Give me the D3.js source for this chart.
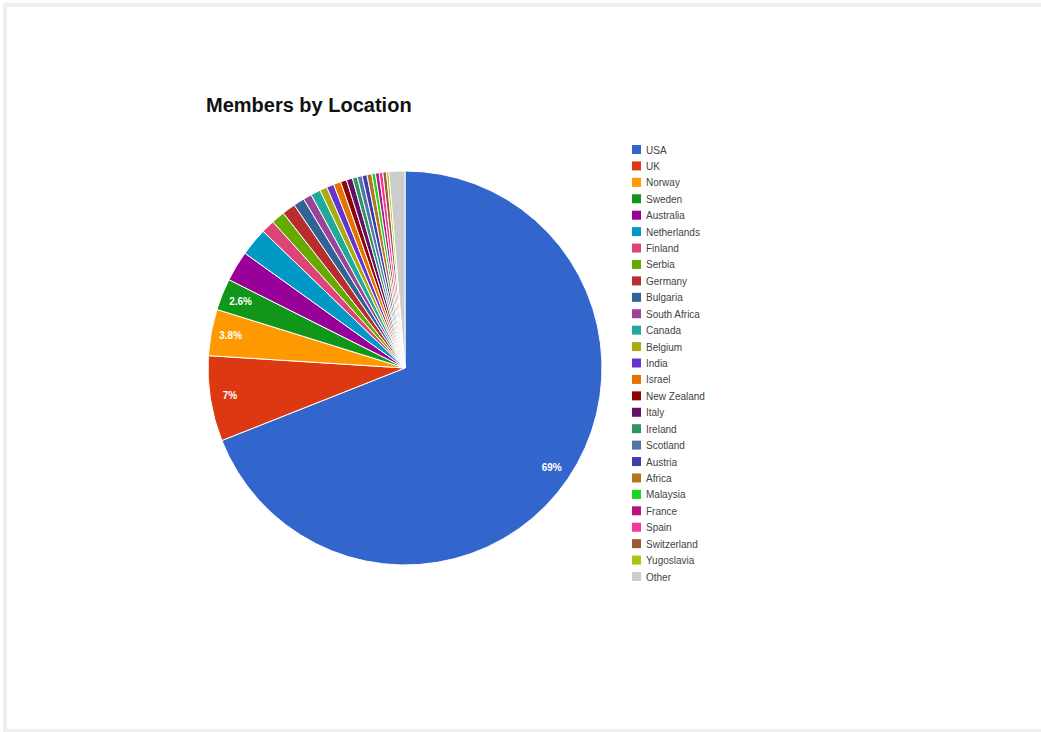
<!DOCTYPE html>
<html lang="en">
  <head>
    <script src="https://d3js.org/d3.v7.min.js"></script>
    <style>
      body { margin: 0; background: #fff; }
      svg { display: block; font-family: "Liberation Sans", Arial, sans-serif; }
    </style>
  </head>
  <body>
    <script>
      // data (percent of members)
      var countries = ["USA", "UK", "Norway", "Sweden", "Australia", "Netherlands", "Finland",
        "Serbia", "Germany", "Bulgaria", "South Africa", "Canada", "Belgium", "India", "Israel",
        "New Zealand", "Italy", "Ireland", "Scotland", "Austria", "Africa", "Malaysia", "France",
        "Spain", "Switzerland", "Yugoslavia", "Other"];
      var shares = [69, 7, 3.8, 2.6, 2.5, 2.3, 1.1, 1.1, 1.1, 0.9, 0.7, 0.8, 0.6, 0.6, 0.6,
        0.5, 0.5, 0.4, 0.4, 0.4, 0.4, 0.3, 0.3, 0.3, 0.3, 0.2, 1.3];
      var labels = ["69%", "7%", "3.8%", "2.6%"];

      // google charts default palette
      var palette = ["#3366cc", "#dc3912", "#ff9900", "#109618", "#990099", "#0099c6", "#dd4477",
        "#66aa00", "#b82e2e", "#316395", "#994499", "#22aa99", "#aaaa11", "#6633cc", "#e67300",
        "#8b0707", "#651067", "#329262", "#5574a6", "#3b3eac", "#b77322", "#16d620", "#b91383",
        "#f4359e", "#9c5935", "#a9c413", "#cccccc"];

      var width = 1041,
        height = 732;

      var svg = d3.select("body")
        .append("svg")
        .attr("width", width)
        .attr("height", height);

      // light grey frame round the chart
      svg.append("rect")
        .attr("x", 5)
        .attr("y", 5)
        .attr("width", 1050)
        .attr("height", 726)
        .attr("fill", "none")
        .attr("stroke", "#efefef")
        .attr("stroke-width", 4);

      svg.append("text")
        .attr("x", 206)
        .attr("y", 112)
        .attr("font-size", 20)
        .attr("font-weight", "bold")
        .attr("fill", "#111")
        .text("Members by Location");

      var data = countries.map(function (c, i) {
        return { name: c, value: shares[i], color: palette[i] };
      });

      var r = 197;
      var cx = 405, cy = 368;

      var pie = d3.pie()
        .sort(null)
        .value(function (d) { return d.value; });

      var arc = d3.arc().innerRadius(0).outerRadius(r);
      var labelArc = d3.arc().innerRadius(r * 0.9).outerRadius(r * 0.9);

      var g = svg.append("g").attr("transform", "translate(" + cx + "," + cy + ")");

      var arcs = pie(data);

      g.selectAll("path")
        .data(arcs)
        .join("path")
        .attr("d", arc)
        .attr("fill", function (d) { return d.data.color; })
        .attr("stroke", "#fff")
        .attr("stroke-width", 1);

      //only the big slices carry a label
      g.selectAll("text")
        .data(arcs.slice(0, labels.length))
        .join("text")
        .attr("transform", function (d) {
          return "translate(" + labelArc.centroid(d) + ")";
        })
        .attr("text-anchor", "middle")
        .attr("dy", "0.35em")
        .attr("font-size", 10)
        .attr("font-weight", "bold")
        .attr("fill", "#fff")
        .text(function (d, i) { return labels[i]; });

      // legend
      var legendY = d3.scaleLinear().domain([0, countries.length - 1]).range([150, 577]);

      var lg = svg.append("g")
        .selectAll("g")
        .data(data)
        .join("g")
        .attr("transform", function (d, i) {
          return "translate(632," + legendY(i) + ")";
        });

      lg.append("rect")
        .attr("x", 0)
        .attr("y", -5)
        .attr("width", 9)
        .attr("height", 9)
        .attr("fill", function (d) { return d.color; });

      lg.append("text")
        .attr("x", 14)
        .attr("y", 0)
        .attr("dy", "0.35em")
        .attr("font-size", 10)
        .attr("fill", "#444")
        .text(function (d) { return d.name; });
    </script>
  </body>
</html>
